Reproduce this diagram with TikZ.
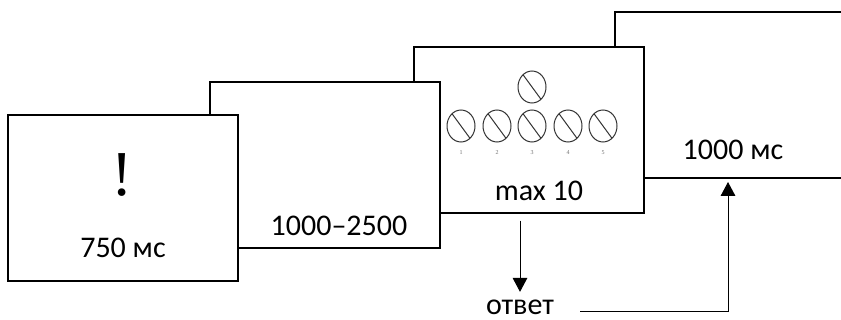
\documentclass[tikz,border=0pt]{standalone}
\usepackage{fontspec}
\setmainfont{Carlito}
\newfontfamily\serifbang{Liberation Serif}
\usepackage{tikz}
\usetikzlibrary{arrows.meta,positioning,calc}
\tikzset{
  Panel/.style={draw, fill=white, line width=1.5pt, minimum width=172.5pt,
                minimum height=124.5pt, inner sep=0pt},
  Ptxt/.style={inner sep=0pt, font=\fontsize{22.5}{27}\selectfont},
  Ring/.style={draw=black!80, line width=0.75pt},
  Rnum/.style={inner sep=0pt, text=black!55, font=\serifbang\fontsize{4.5}{5}\selectfont},
  Narr/.style={-{Triangle[length=10.5pt, width=11pt]}, line width=0.75pt}
}

\begin{document}
\begin{tikzpicture}[x=0.75pt, y=-0.75pt]
  \useasboundingbox (0,0) rectangle (841,320);
  \clip (0,0) rectangle (841,320);
  % panels, back to front
  \node[Panel] (p4) at (730,95) {};
  \node[Panel] (p3) at (529,130.5) {};
  \node[Panel] (p2) at (325,165) {};
  \node[Panel] (p1) at (123,198) {};
  % texts
  \node[inner sep=0pt, font=\serifbang\fontsize{48}{50}\selectfont] (bang) at (122,175) {!};
  \node[Ptxt] (t1) at (123,248) {750 мс};
  \node[Ptxt] (t2) at (339,226) {1000–2500};
  \node[Ptxt] (t3) at (539,191) {max 10};
  \node[Ptxt] (t4) at (733,150) {1000 мс};
  \node[Ptxt] (resp) at (520,307.5) {ответ};
  % circles
  \draw[Ring] (532,87) ellipse (14 and 16);
  \draw[Ring] (532,87) ++(-9,-12.3) -- ++(18,24.6);
  \foreach \i/\cx in {1/461,2/497,3/532,4/568,5/603}{
    \draw[Ring] (\cx,126) ellipse (14 and 16);
    \draw[Ring] (\cx,126) ++(-9,-12.3) -- ++(18,24.6);
    \node[Rnum] (n\i) at (\cx,153) {\i};
  }
  % arrows
  \coordinate (rt) at (728,178);
  \draw[Narr, shorten <=4.5pt, shorten >=6pt] (p3.south -| resp.north) -- (resp.north);
  \draw[Narr, shorten <=19.5pt, shorten >=3pt] ([yshift=-3pt]resp.east) -| (rt);
\end{tikzpicture}
\end{document}
